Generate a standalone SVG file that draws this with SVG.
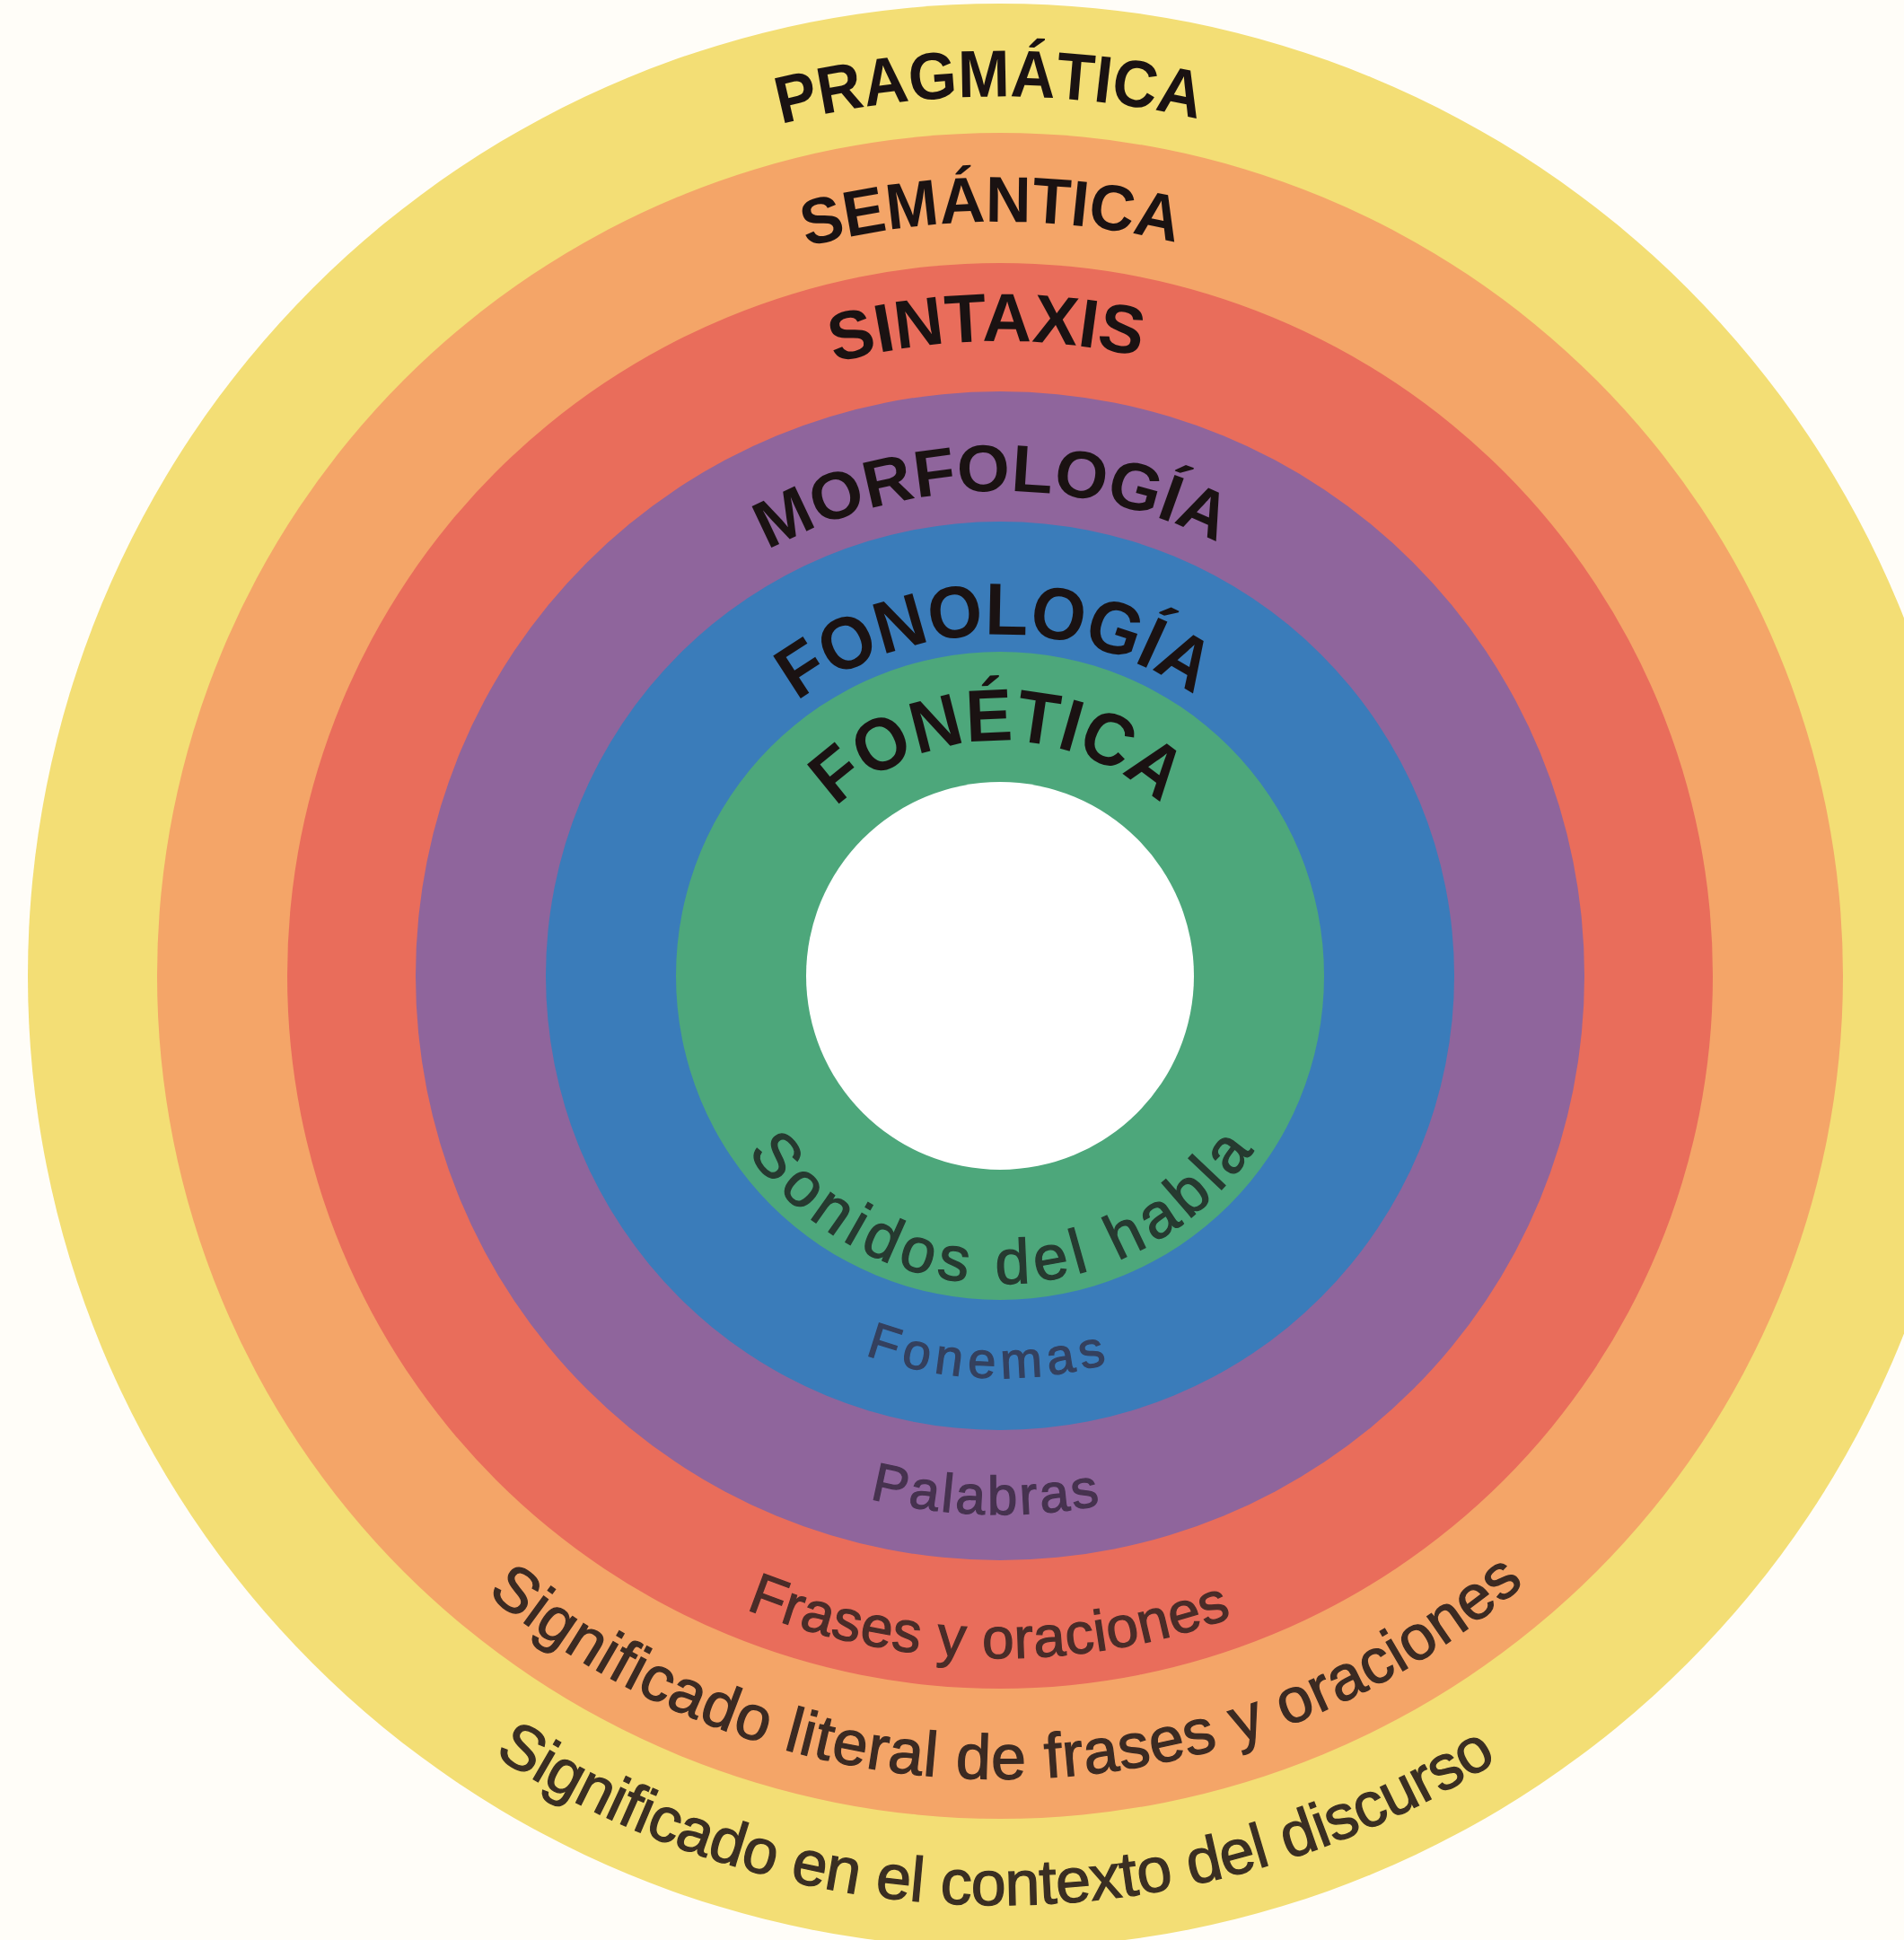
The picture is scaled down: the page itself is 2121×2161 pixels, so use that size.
<svg xmlns="http://www.w3.org/2000/svg" xmlns:xlink="http://www.w3.org/1999/xlink" width="2121" height="2161" viewBox="0 0 2121 2161">
<style>
.top{font-family:"Liberation Sans",Arial,sans-serif;font-weight:bold;fill:#1a1212;text-anchor:middle}
.bot{font-family:"Liberation Sans",Arial,sans-serif;font-weight:normal;text-anchor:middle;stroke-width:1.3}
</style>
<defs>
<path id="t980" d="M134,1087 A980,980 0 0 1 2094,1087"/>
<path id="t840" d="M274,1087 A840,840 0 0 1 1954,1087"/>
<path id="t707" d="M407,1087 A707,707 0 0 1 1821,1087"/>
<path id="t540" d="M574,1087 A540,540 0 0 1 1654,1087"/>
<path id="t380" d="M734,1087 A380,380 0 0 1 1494,1087"/>
<path id="t262" d="M852,1087 A262,262 0 0 1 1376,1087"/>
<path id="b343" d="M771,1087 A343,343 0 0 0 1457,1087"/>
<path id="b448" d="M666,1087 A448,448 0 0 0 1562,1087"/>
<path id="b600" d="M514,1087 A600,600 0 0 0 1714,1087"/>
<path id="b760" d="M354,1087 A760,760 0 0 0 1874,1087"/>
<path id="b895" d="M219,1087 A895,895 0 0 0 2009,1087"/>
<path id="b1035" d="M79,1087 A1035,1035 0 0 0 2149,1087"/>
</defs>
<rect width="2121" height="2161" fill="#FFFDF8"/>
<g id="pragmatica">
<circle cx="1114" cy="1087" r="1083" fill="#F3DE75"/>
<text class="top" font-size="74" transform="rotate(-0.7 1114 1087)"><textPath xlink:href="#t980" startOffset="50%" textLength="469" lengthAdjust="spacingAndGlyphs">PRAGMÁTICA</textPath></text>
<text class="bot" font-size="70" fill="#3a2e22" stroke="#3a2e22" transform="rotate(0.3 1114 1087)"><textPath xlink:href="#b1035" startOffset="50%" textLength="1181">Significado en el contexto del discurso</textPath></text>
</g>
<g id="semantica">
<circle cx="1114" cy="1087" r="939" fill="#F4A568"/>
<text class="top" font-size="72" transform="rotate(-0.7 1114 1087)"><textPath xlink:href="#t840" startOffset="50%" textLength="416" lengthAdjust="spacingAndGlyphs">SEMÁNTICA</textPath></text>
<text class="bot" font-size="70" fill="#3b2a22" stroke="#3b2a22" transform="rotate(-0.55 1114 1087)"><textPath xlink:href="#b895" startOffset="50%" textLength="1257">Significado literal de frases y oraciones</textPath></text>
</g>
<g id="sintaxis">
<circle cx="1114" cy="1087" r="794" fill="#E96D5B"/>
<text class="top" font-size="76" transform="rotate(-1.2 1114 1087)"><textPath xlink:href="#t707" startOffset="50%" textLength="344" lengthAdjust="spacingAndGlyphs">SINTAXIS</textPath></text>
<text class="bot" font-size="64" fill="#4a2c28" stroke="#4a2c28" transform="rotate(1 1114 1087)"><textPath xlink:href="#b760" startOffset="50%" textLength="554">Frases y oraciones</textPath></text>
</g>
<g id="morfologia">
<circle cx="1114" cy="1087" r="651" fill="#8F659C"/>
<text class="top" font-size="74" transform="rotate(-1 1114 1087)"><textPath xlink:href="#t540" startOffset="50%" textLength="521" lengthAdjust="spacingAndGlyphs">MORFOLOGÍA</textPath></text>
<text class="bot" font-size="60" fill="#46324f" stroke="#46324f" transform="rotate(1.65 1114 1087)"><textPath xlink:href="#b600" startOffset="50%" textLength="259">Palabras</textPath></text>
</g>
<g id="fonologia">
<circle cx="1114" cy="1087" r="506" fill="#3A7CBA"/>
<text class="top" font-size="82" transform="rotate(-0.9 1114 1087)"><textPath xlink:href="#t380" startOffset="50%" textLength="472" lengthAdjust="spacingAndGlyphs">FONOLOGÍA</textPath></text>
<text class="bot" font-size="56" fill="#34405e" stroke="#34405e" transform="rotate(2.1 1114 1087)"><textPath xlink:href="#b448" startOffset="50%" textLength="274">Fonemas</textPath></text>
</g>
<g id="fonetica">
<circle cx="1114" cy="1087" r="361" fill="#4DA77B"/>
<text class="top" font-size="82" transform="rotate(-0.6 1114 1087)"><textPath xlink:href="#t262" startOffset="50%" textLength="399" lengthAdjust="spacingAndGlyphs">FONÉTICA</textPath></text>
<text class="bot" font-size="70" fill="#263a30" stroke="#263a30" transform="rotate(-0.2 1114 1087)"><textPath xlink:href="#b343" startOffset="50%" textLength="661">Sonidos del habla</textPath></text>
</g>
<g id="centro">
<circle cx="1114" cy="1087" r="216" fill="#FFFFFF"/>
</g>
<g id="connectors"/>
</svg>
